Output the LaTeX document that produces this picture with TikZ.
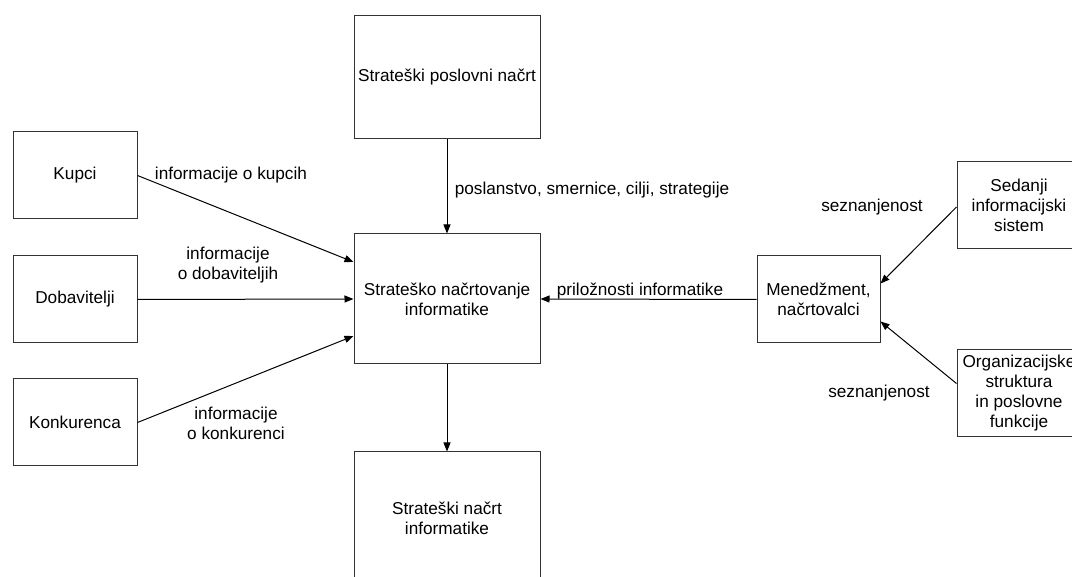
\documentclass[tikz,border=0pt]{standalone}
\usepackage{fontspec}
\setmainfont{Liberation Sans}
\usetikzlibrary{arrows.meta}
\begin{document}
\begin{tikzpicture}[x=1pt,y=-1pt,
  every node/.style={font=\fontsize{17.2}{20}\selectfont},
  box/.style={draw=black!80,line width=1pt,rectangle,align=center,inner sep=0pt},
  wide/.style={box,minimum width=186pt},
  small/.style={box,minimum width=124pt,minimum height=87pt},
  lbl/.style={align=center,inner sep=0pt},
  flow/.style={draw=black,line width=1pt,-{Triangle[length=9pt,width=7pt]}}]
\useasboundingbox (0,0) rectangle (1072,577);
\clip (0,0) rectangle (1072,577);

% boxes
\node[wide,minimum height=123pt] (plan) at (447,77.5) {Strateški poslovni načrt};
\node[wide,minimum height=130pt] (sni) at (447,299) {Strateško načrtovanje\\informatike};
\node[wide,minimum height=132pt] (out) at (447,518) {Strateški načrt\\informatike};
\node[small] (kup) at (75,175.5) {Kupci};
\node[small] (dob) at (75,299.5) {Dobavitelji};
\node[small] (kon) at (75,422.5) {Konkurenca};
\node[small,minimum width=123pt] (men) at (818.5,299.5) {Menedžment,\\načrtovalci};
\node[small] (sed) at (1019,205) {Sedanji\\informacijski\\sistem};
\node[small] (org) at (1019,393.5) {Organizacijske\\struktura\\in poslovne\\funkcije};

% flows
\draw[flow] (kup.east) -- ([yshift=37pt]sni.west);
\draw[flow] (dob.east) -- (sni.west);
\draw[flow] (kon.east) -- ([yshift=-37pt]sni.west);
\draw[flow] (plan.south) -- (sni.north);
\draw[flow] (sni.south) -- (out.north);
\draw[flow] (men.west) -- (sni.east);
\draw[flow] ([yshift=-2pt]sed.west) -- ([yshift=16pt]men.east);
\draw[flow] ([yshift=10pt]org.west) -- ([yshift=-22pt]men.east);

% flow labels
\node[lbl] (l1) at (231,175) {informacije o kupcih};
\node[lbl] (l2) at (228,265) {informacije\\o dobaviteljih};
\node[lbl] (l3) at (236,423) {informacije\\o konkurenci};
\node[lbl] (l4) at (592,190) {poslanstvo, smernice, cilji, strategije};
\node[lbl] (l5) at (640,291) {priložnosti informatike};
\node[lbl] (l6) at (872,207) {seznanjenost};
\node[lbl] (l7) at (879,393) {seznanjenost};
\end{tikzpicture}
\end{document}
